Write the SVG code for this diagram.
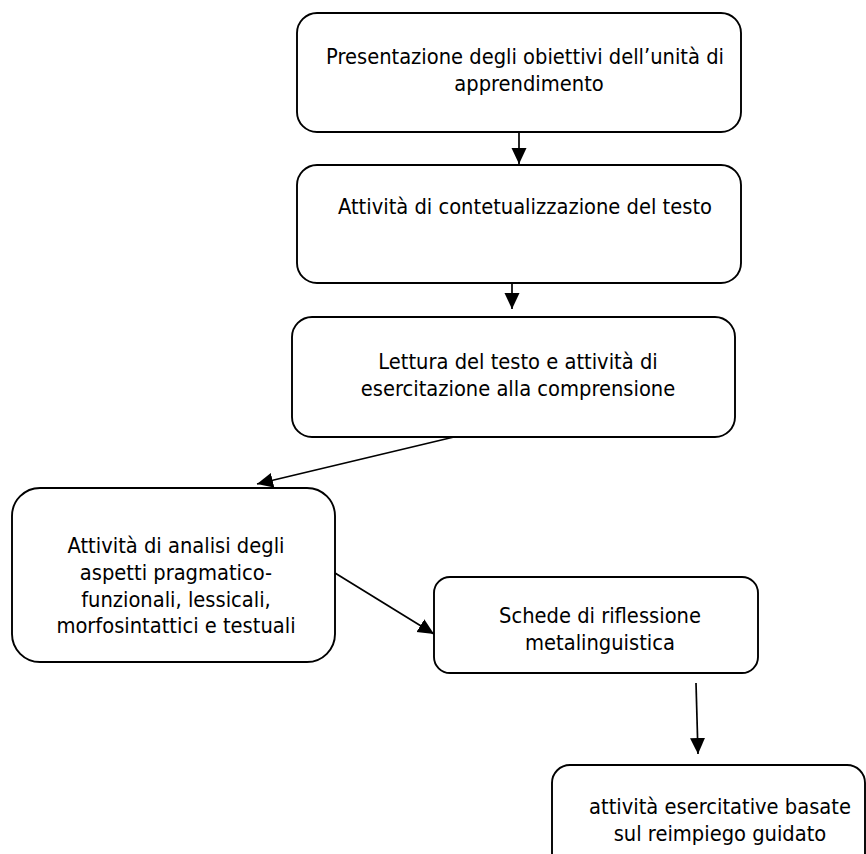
<svg xmlns="http://www.w3.org/2000/svg" width="866" height="854" viewBox="0 0 866 854">
<style>
.box{fill:#fff;stroke:#000;stroke-width:1.9}
.t{font-family:"DejaVu Sans Condensed","DejaVu Sans",sans-serif;font-stretch:condensed;font-size:21.7px;fill:#000;text-anchor:middle}
.c{stroke:#000;stroke-width:1.7;fill:none;marker-end:url(#ah)}
</style>
<defs>
<marker id="ah" markerUnits="userSpaceOnUse" markerWidth="18" markerHeight="16" refX="16" refY="7.5" orient="auto">
<path d="M0,0 L16,7.5 L0,15 z" fill="#000"/>
</marker>
</defs>
<rect width="866" height="854" fill="#fff"/>
<g id="n1">
<rect class="box" x="297" y="13" width="444" height="119" rx="20"/>
<text class="t" x="525" y="64">Presentazione degli obiettivi dell’unità di</text>
<text class="t" x="529" y="91">apprendimento</text>
</g>
<g id="n2">
<rect class="box" x="297" y="165" width="444" height="118" rx="20"/>
<text class="t" x="525" y="214">Attività di contetualizzazione del testo</text>
</g>
<g id="n3">
<rect class="box" x="292" y="317" width="443" height="120" rx="20"/>
<text class="t" x="518" y="369">Lettura del testo e attività di</text>
<text class="t" x="518" y="396">esercitazione alla comprensione</text>
</g>
<g id="n4">
<rect class="box" x="12" y="488" width="323" height="174" rx="28"/>
<text class="t" x="176" y="553">Attività di analisi degli</text>
<text class="t" x="176" y="580">aspetti pragmatico-</text>
<text class="t" x="176" y="607">funzionali, lessicali,</text>
<text class="t" x="176" y="633">morfosintattici e testuali</text>
</g>
<g id="n5">
<rect class="box" x="434" y="577" width="324" height="96" rx="16"/>
<text class="t" x="600" y="623">Schede di riflessione</text>
<text class="t" x="600" y="650">metalinguistica</text>
</g>
<g id="n6">
<rect class="box" x="552" y="765" width="313" height="110" rx="18"/>
<text class="t" x="720" y="814">attività esercitative basate</text>
<text class="t" x="720" y="841">sul reimpiego guidato</text>
</g>
<g id="connectors">
<line class="c" x1="519" y1="132" x2="519" y2="164"/>
<line class="c" x1="512" y1="283" x2="512" y2="309"/>
<line class="c" x1="454" y1="437" x2="257" y2="484"/>
<line class="c" x1="335" y1="573" x2="434" y2="634"/>
<line class="c" x1="696" y1="683" x2="698" y2="754"/>
</g>
</svg>
